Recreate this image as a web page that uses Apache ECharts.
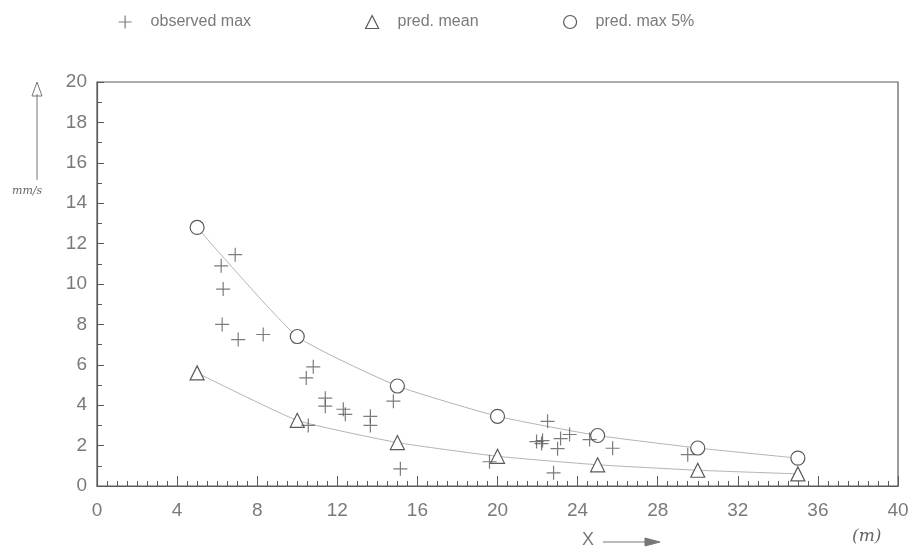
<!DOCTYPE html>
<html>
<head>
<meta charset="utf-8">
<script src="https://cdn.jsdelivr.net/npm/echarts@6/dist/echarts.min.js"></script>
<style>
  html, body { margin: 0; padding: 0; background: #fff; }
  #chart { width: 920px; height: 560px; }
</style>
</head>
<body>
<div id="chart"></div>
<script>
// Distance from source (m) vs. vibration velocity (mm/s)
const predX = [5, 10, 15, 20, 25, 30, 35];
const predMean = [5.6, 3.25, 2.15, 1.47, 1.05, 0.78, 0.6];
const predMax5 = [12.8, 7.4, 4.95, 3.45, 2.5, 1.88, 1.38];

const observedX = [6.9, 6.2, 6.3, 6.25, 7.05, 8.3, 10.8, 10.45, 11.4, 11.4, 12.3, 12.4, 13.65, 13.65, 14.8, 10.55, 15.15,
                   19.6, 22.5, 21.95, 22.2, 22.25, 23.0, 23.15, 23.6, 24.6, 25.75, 22.8, 29.5];
const observedMax = [11.45, 10.9, 9.75, 8.0, 7.25, 7.5, 5.9, 5.35, 4.35, 3.95, 3.8, 3.55, 3.45, 3.0, 4.2, 3.0, 0.85,
                     1.2, 3.2, 2.2, 2.1, 2.25, 1.85, 2.35, 2.55, 2.3, 1.87, 0.65, 1.55];

const legendNames = ['observed max', 'pred. mean', 'pred. max 5%'];

const ink = '#5a5a5a';
const labelInk = '#7a7a7a';
const curveInk = '#b4b4b4';
const font = 'Liberation Sans';

const plusPath = 'path://M0,5L10,5M5,0L5,10';

const zip = (xs, ys) => xs.map((x, i) => [x, ys[i]]);

const chart = echarts.init(document.getElementById('chart'), null, { renderer: 'canvas' });

const legendCommon = {
  top: 9,
  itemWidth: 13,
  itemHeight: 13,
  textStyle: { color: labelInk, fontFamily: font, fontSize: 16, padding: [0, 0, 0, 14] },
  selectedMode: false
};

chart.setOption({
  animation: false,
  backgroundColor: '#fff',
  legend: [
    Object.assign({}, legendCommon, { left: 113, data: [{ name: legendNames[0], icon: plusPath,
      itemStyle: { color: 'transparent', borderColor: ink, borderWidth: 1.2 } }] }),
    Object.assign({}, legendCommon, { left: 360, data: [{ name: legendNames[1], icon: 'triangle',
      itemStyle: { color: '#fff', borderColor: ink, borderWidth: 1.2 } }] }),
    Object.assign({}, legendCommon, { left: 558, data: [{ name: legendNames[2], icon: 'circle',
      itemStyle: { color: '#fff', borderColor: ink, borderWidth: 1.2 } }] })
  ],
  grid: {
    left: 97, top: 82, width: 801, height: 404,
    show: true, borderColor: ink, borderWidth: 1.2, backgroundColor: 'transparent'
  },
  xAxis: {
    type: 'value', min: 0, max: 40, interval: 4,
    axisLine: { show: true, lineStyle: { color: ink, width: 1.2 } },
    axisTick: { show: true, inside: true, length: 10, lineStyle: { color: ink } },
    minorTick: { show: true, splitNumber: 8, length: 5, lineStyle: { color: ink } },
    axisLabel: { color: labelInk, fontFamily: font, fontSize: 19, margin: 15 },
    splitLine: { show: false }
  },
  yAxis: {
    type: 'value', min: 0, max: 20, interval: 2,
    axisLine: { show: true, lineStyle: { color: ink, width: 1.2 } },
    axisTick: { show: true, inside: true, length: 7, lineStyle: { color: ink } },
    minorTick: { show: true, splitNumber: 2, length: 5, lineStyle: { color: ink } },
    axisLabel: { color: labelInk, fontFamily: font, fontSize: 19, margin: 10 },
    splitLine: { show: false }
  },
  series: [
    {
      name: legendNames[0], type: 'scatter',
      data: zip(observedX, observedMax),
      symbol: plusPath, symbolSize: 14,
      itemStyle: { color: 'transparent', borderColor: ink, borderWidth: 1.2 },
      z: 4
    },
    {
      name: legendNames[1], type: 'line', smooth: 0.15,
      data: zip(predX, predMean),
      symbol: 'triangle', symbolSize: 14, showAllSymbol: true,
      lineStyle: { color: curveInk, width: 1 },
      itemStyle: { color: '#fff', borderColor: ink, borderWidth: 1.2 },
      z: 3
    },
    {
      name: legendNames[2], type: 'line', smooth: 0.15,
      data: zip(predX, predMax5),
      symbol: 'circle', symbolSize: 14, showAllSymbol: true,
      lineStyle: { color: curveInk, width: 1 },
      itemStyle: { color: '#fff', borderColor: ink, borderWidth: 1.2 },
      z: 3
    }
  ],
  graphic: [
    // y-axis unit with upward arrow
    { type: 'line', shape: { x1: 37, y1: 180, x2: 37, y2: 94 }, style: { stroke: '#777', lineWidth: 1 } },
    { type: 'polygon', shape: { points: [[32, 96], [42, 96], [37, 82]] }, style: { fill: 'transparent', stroke: '#777', lineWidth: 1 } },
    { type: 'text', left: 12, top: 186, style: { text: 'mm/s', fill: '#666', font: 'italic 11px "DejaVu Serif"' } },
    // x-axis unit with rightward arrow
    { type: 'text', left: 582, top: 531, style: { text: 'X', fill: labelInk, font: '18px "Liberation Sans"' } },
    { type: 'line', shape: { x1: 603, y1: 542, x2: 655, y2: 542 }, style: { stroke: '#777', lineWidth: 1.2 } },
    { type: 'polygon', shape: { points: [[645, 538], [660, 542], [645, 546]] }, style: { fill: '#777', stroke: '#777', lineWidth: 1 } },
    { type: 'text', left: 852, top: 528, style: { text: '(m)', fill: '#666', font: 'italic 17px "DejaVu Serif"' } }
  ]
});
</script>
</body>
</html>
